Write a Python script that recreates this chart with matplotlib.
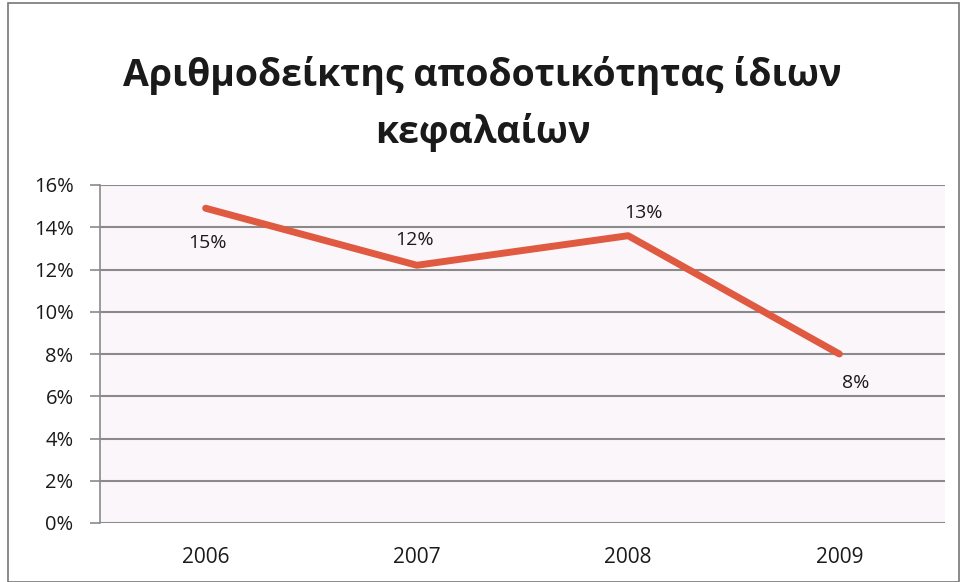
import matplotlib
matplotlib.use("Agg")
import matplotlib.pyplot as plt
from matplotlib.ticker import FuncFormatter
from matplotlib.patches import Rectangle

years = ["2006", "2007", "2008", "2009"]
roe = [14.9, 12.2, 13.6, 8.0]
labels = ["15%", "12%", "13%", "8%"]
title = "Αριθμοδείκτης αποδοτικότητας ίδιων\nκεφαλαίων"

plt.rcParams['font.family'] = ['Open Sans', 'DejaVu Sans']

fig = plt.figure(figsize=(9.61, 5.82), dpi=100)
fig.patch.set_facecolor("white")
ax = fig.add_axes([100/961, 1-523/582, 845/961, (523-185)/582])
ax.set_facecolor("#fbf6f9")
fig.patches.append(Rectangle((8/961, 0), 1-10/961, 0.995, transform=fig.transFigure,
                             fill=False, edgecolor="#777777", lw=1.2))

x = list(range(len(years)))
ax.plot(x, roe, color="#df5a40", lw=5, solid_joinstyle="round", solid_capstyle="round", zorder=3)

offsets = [(1.5, -25), (-1.5, 18), (11, 16), (12, -21)]
for xi, yi, lab, off in zip(x, roe, labels, offsets):
    ax.annotate(lab, (xi, yi), xytext=off, textcoords="offset points",
                ha="center", va="center", fontsize=14, color="#1a1a1a")

ax.set_xlim(-0.5, 3.5)
ax.set_ylim(0, 16)
ax.set_yticks(range(0, 17, 2))
ax.yaxis.set_major_formatter(FuncFormatter(lambda v, p: f"{int(v)}%"))
ax.set_xticks(x)
ax.set_xticklabels(years)
ax.grid(axis="y", color="#8a8a8a", lw=1.5)
ax.set_axisbelow(True)
for s in ["top", "right", "bottom"]:
    ax.spines[s].set_visible(False)
ax.spines["left"].set_color("#8a8a8a")
ax.spines["left"].set_linewidth(1.2)
ax.tick_params(axis="y", length=7, width=1.2, color="#8a8a8a", labelsize=14.5, labelcolor="#1a1a1a", pad=12)
ax.tick_params(axis="x", length=0, labelsize=15, labelcolor="#1a1a1a", pad=17)

fig.text(0.502, 0.821, title, ha="center", va="center", fontsize=27, fontweight="bold",
         color="#1a1a1a", linespacing=1.6)

fig.savefig("out.png", dpi=100)
